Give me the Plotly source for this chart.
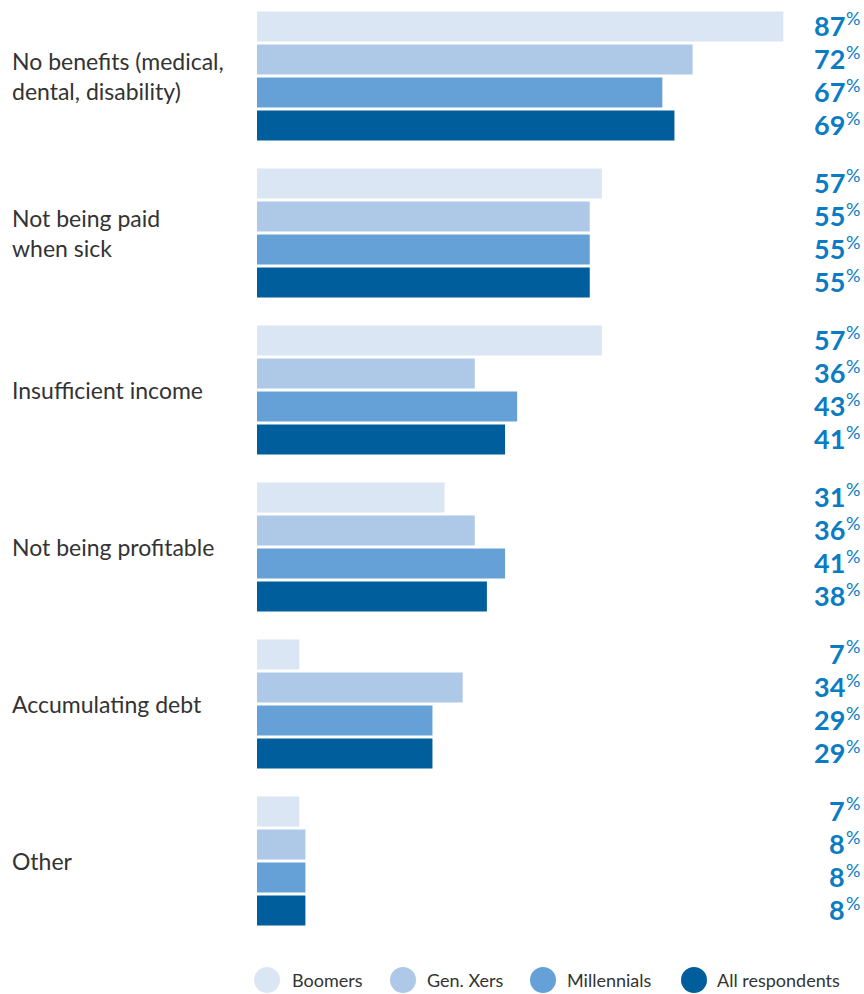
import plotly.graph_objects as go

categories = ["No benefits (medical,<br>dental, disability)", "Not being paid<br>when sick",
              "Insufficient income", "Not being profitable", "Accumulating debt", "Other"]
series_names = ["Boomers", "Gen. Xers", "Millennials", "All respondents"]
boomers = [87, 57, 57, 31, 7, 7]
gen_x = [72, 55, 36, 36, 34, 8]
millennials = [67, 55, 43, 41, 29, 8]
all_resp = [69, 55, 41, 38, 29, 8]
series_values = [boomers, gen_x, millennials, all_resp]
colors = ["#dbe6f4", "#aec8e8", "#65a1d6", "#005e9c"]

W, H = 864, 994
L, R, T, B = 257, 0, 0, 49
px_per_pct = 6.05
plot_w = W - L - R
plot_h = H - T - B
group_px = 157.0
first_center_px = 76.0
bargap = 0.159
bargroupgap = 0.09

y_top = -first_center_px / group_px
y_bot = y_top + plot_h / group_px
pos = list(range(len(categories)))

fig = go.Figure()
for name, vals, col in zip(series_names, series_values, colors):
    fig.add_trace(go.Bar(y=pos, x=vals, orientation="h", name=name,
                         marker=dict(color=col, line=dict(width=0)),
                         showlegend=False, hoverinfo="skip"))

annotations = []
shapes = []
font_main = "Lato"
# category labels
for i, c in enumerate(categories):
    annotations.append(dict(xref="paper", yref="y", x=(10 - L) / plot_w, y=i,
                            text=c, showarrow=False, xanchor="left", yanchor="middle",
                            align="left", font=dict(family=font_main, size=23, color="#333333")))

# value labels
n = len(series_names)
gw = 1 - bargap
slot = gw / n
num_right_px = 847
for k, vals in enumerate(series_values):
    off = -gw / 2 + slot * (k + 0.5)
    for i, v in enumerate(vals):
        yy = i + off
        annotations.append(dict(xref="paper", yref="y", x=(num_right_px - L) / plot_w, y=yy,
                                text=f"<b>{v}</b>", showarrow=False, xanchor="right", yanchor="middle",
                                yshift=1, font=dict(family=font_main, size=27, color="#0a7cc3")))
        annotations.append(dict(xref="paper", yref="y", x=(num_right_px - 3 - L) / plot_w, y=yy,
                                text="%", showarrow=False, xanchor="left", yanchor="middle",
                                yshift=8, font=dict(family=font_main, size=18, color="#0a7cc3")))

# legend (manual)
leg_circle_px = [267, 403, 543, 694]
leg_text_px = [290, 425, 565, 715]
leg_y_px = 980
leg_y = -(leg_y_px - (T + plot_h)) / plot_h
for name, col, cx, tx in zip(series_names, colors, leg_circle_px, leg_text_px):
    shapes.append(dict(type="circle", xref="paper", yref="paper", xsizemode="pixel", ysizemode="pixel",
                       xanchor=(cx - L) / plot_w, yanchor=leg_y, x0=-13, x1=13, y0=-13, y1=13,
                       fillcolor=col, line=dict(width=0)))
    annotations.append(dict(xref="paper", yref="paper", x=(tx - L) / plot_w, y=leg_y,
                            text=name, showarrow=False, xanchor="left", yanchor="middle",
                            font=dict(family=font_main, size=18, color="#333333")))

fig.update_layout(
    width=W, height=H,
    margin=dict(l=L, r=R, t=T, b=B, pad=0),
    barmode="group", bargap=bargap, bargroupgap=bargroupgap,
    plot_bgcolor="white", paper_bgcolor="white",
    xaxis=dict(range=[0, plot_w / px_per_pct], visible=False, fixedrange=True),
    yaxis=dict(range=[y_bot, y_top], visible=False, fixedrange=True),
    annotations=annotations, shapes=shapes, showlegend=False,
)
fig.write_html("out.html", config={"displayModeBar": False},
               post_script="document.body.style.margin='0';document.body.style.overflow='hidden';")
